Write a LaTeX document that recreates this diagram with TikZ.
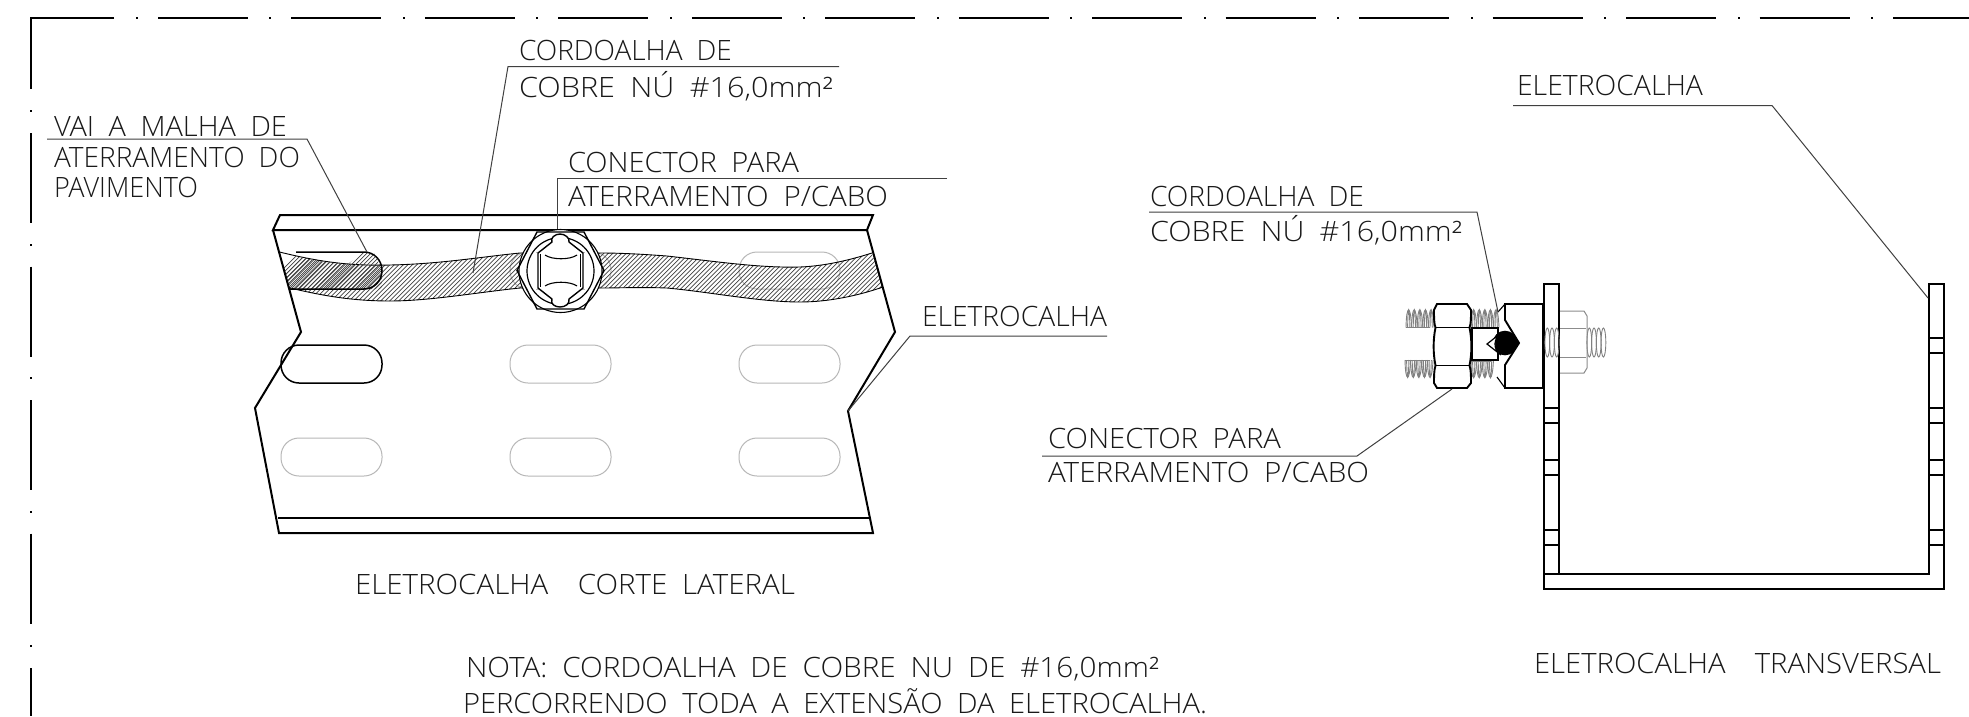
\documentclass[tikz,border=0pt]{standalone}
\usepackage{fontspec}
\usepackage{graphicx}
\setmainfont{Open Sans Light}
\tikzset{
  frameln/.style={line width=1.6pt,draw=black},
  thick1/.style={line width=2pt,draw=black,line join=miter},
  thin1/.style={line width=1.1pt,draw=black},
  leader/.style={line width=1pt,draw=black!75},
  grayslot/.style={line width=1pt,draw=black!28},
  blackslot/.style={line width=1.5pt,draw=black},
  hatchln/.style={line width=.7pt,draw=black!75},
  threadln/.style={line width=.9pt,draw=black!50},
  graynut/.style={line width=1pt,draw=black!45},
  lbl/.style={anchor=base west,inner sep=0pt,outer sep=0pt,font=\fontsize{28}{28}\selectfont,text=black!90}
}
\newcommand{\ws}{\hspace{.5em}}
\newcommand{\tlabel}[5]{\node[lbl] (#1) at (#2,#3) {\resizebox{#4pt}{\height}{#5}};}
\newcommand{\slotbox}[5]{\draw[#1,rounded corners=18pt] (#2,#3) rectangle (#4,#5);}
\newcommand{\thrup}[4]{% x0 x1 yctrl ybase
  \pgfmathsetmacro{\txn}{#1+5.6}
  \foreach \tx in {#1,\txn,...,#2}{
    \draw[threadln] (\tx,#4) .. controls (\tx+.4,#3) and (\tx+4.6,#3) .. (\tx+5.6,#4);
    \draw[threadln] (\tx+1.6,#4) .. controls (\tx+2,#3) and (\tx+3.4,#3) .. (\tx+3.9,#4);}
  \draw[threadln] (#1,#4) -- (#2,#4);}
\newcommand{\thrcoil}[4]{% x0 x1 ytop ybot
  \pgfmathsetmacro{\txn}{#1+4.7}
  \foreach \tx in {#1,\txn,...,#2}{
    \draw[threadln] (\tx+2.3,{(#3+#4)/2}) ellipse [x radius=2.4,y radius={(#4-#3)/2}];}}
\begin{document}
\begin{tikzpicture}[x=1pt,y=-1pt]
\useasboundingbox (0,0) rectangle (1969,716);
\fill[white] (0,0) rectangle (1969,716);
% ---- sheet frame
\draw[frameln] (114,18) -- (31,18) -- (31,89);
\foreach \i in {0,...,13}{
  \pgfmathsetmacro{\xa}{158+133.46*\i}
  \pgfmathsetmacro{\xb}{min(\xa+90,1969)}
  \draw[frameln] (\xa,18) -- (\xb,18);
  \fill (\xa-22,17) rectangle (\xa-20,19);
}
\foreach \i in {0,...,3}{
  \pgfmathsetmacro{\ya}{133+133.5*\i}
  \draw[frameln] (31,\ya) -- (31,\ya+90);
  \fill (30,\ya-23) rectangle (32,\ya-21);
}
\draw[frameln] (31,668) -- (31,716);
\fill (30,645) rectangle (32,647);
% ---- slots of the side view
\foreach \yt/\yb in {252/289,345/383,438/476}{
  \slotbox{grayslot}{510}{\yt}{611}{\yb}
  \slotbox{grayslot}{739}{\yt}{840}{\yb}
}
\slotbox{grayslot}{281}{438}{382}{476}
% ---- braided cable (hatched band)
\begin{scope}
  \clip (279.5,252) .. controls (320,262) and (350,266) .. (390,265) .. controls (440,264) and (480,257) .. (520,253) -- (600,253) .. controls (620,253) and (640,254) .. (667,256) .. controls (720,262) and (760,268) .. (800,267) .. controls (825,266) and (850,260) .. (872,253) -- (883,287) .. controls (860,295) and (830,302) .. (800,302) .. controls (760,302) and (710,292) .. (667,288) .. controls (640,287) and (620,288) .. (600,288) -- (520,288) .. controls (480,292) and (430,301) .. (390,301) .. controls (350,301) and (320,295) .. (290,288) -- cycle;
  \foreach \hx in {250,254.5,...,960}{\draw[hatchln] (\hx,310) -- ++(70,-70);}
\end{scope}
\draw[line width=.9pt,draw=black] (279.5,252) .. controls (320,262) and (350,266) .. (390,265) .. controls (440,264) and (480,257) .. (520,253) -- (600,253) .. controls (620,253) and (640,254) .. (667,256) .. controls (720,262) and (760,268) .. (800,267) .. controls (825,266) and (850,260) .. (872,253);
\draw[line width=.9pt,draw=black] (883,287) .. controls (860,295) and (830,302) .. (800,302) .. controls (760,302) and (710,292) .. (667,288) .. controls (640,287) and (620,288) .. (600,288) -- (520,288) .. controls (480,292) and (430,301) .. (390,301) .. controls (350,301) and (320,295) .. (290,288);
% doubled hatch where the cable enters the slot
\begin{scope}
  \clip (279,252) .. controls (320,262) and (335,264) .. (348,264) -- (363,252) -- (375,254) -- (382,270) -- (382,289) -- (290,289) -- cycle;
  \foreach \hx in {252,256,...,400}{\draw[hatchln] (\hx,300) -- ++(60,-60);}
\end{scope}
% ---- side view channel
\draw[thick1] (280,215) -- (873,215) -- (867,230) -- (273,230) -- cycle;
\draw[thick1] (273,230) -- (301,332) -- (255,408) -- (279,533) -- (873,533) -- (848,411) -- (895,332) -- (867,230);
\draw[thick1] (278,518) -- (869,518);
\draw[blackslot] (296,252) -- (364,252) .. controls (374,252) and (382,260) .. (382,270.5) .. controls (382,281) and (374,289) .. (364,289) -- (290,289);
\slotbox{blackslot}{281}{345}{382}{383}
% ---- connector seen from the front
\filldraw[thin1,fill=white] (560.5,271) circle (41.5);
\draw[line width=1.4pt] (517,270.5) -- (537,232) -- (584,232) -- (604,270.5) -- (584,309) -- (537,309) -- cycle;
\draw[line width=1.2pt] (560.5,271) circle (33.5);
\draw[grayslot] (536,252) -- (585,252) (536,289.5) -- (585,289.5);
\draw[line width=1.4pt,fill=white] (538,253) -- (552,242) .. controls (550,238) and (555,234) .. (560,234) .. controls (565,234) and (570,238) .. (569,242) -- (583,253) -- (583,288) -- (569,299) .. controls (570,304) and (565,307) .. (560,307) .. controls (555,307) and (550,304) .. (552,299) -- (538,288) -- cycle;
\draw[line width=1.6pt] (540.5,254) -- (540.5,287) (580.5,254) -- (580.5,287);
\draw[thin1] (545,255) .. controls (552,260) and (570,260) .. (577,255);
\draw[thin1] (545,286) .. controls (552,281) and (570,281) .. (577,286);
% ---- U channel, cross section
\draw[thick1] (1544,284) rectangle (1559,574);
\draw[thick1] (1544,284) -- (1544,589) -- (1944,589) -- (1944,284) -- (1929,284) -- (1929,574) -- (1559,574);
\foreach \ya/\yb in {408/423,460/475,530/545}{
  \draw[line width=1.6pt] (1544,\ya) -- (1559,\ya) (1544,\yb) -- (1559,\yb);
  \draw[line width=1.6pt] (1929,\ya) -- (1944,\ya) (1929,\yb) -- (1944,\yb);
}
\draw[line width=1.6pt] (1929,338) -- (1944,338) (1929,353) -- (1944,353);
% ---- bolt, gray parts
\thrup{1406}{1430}{304}{327.5}
\thrup{1405}{1430}{383}{360}
\thrup{1471}{1494}{304}{327.5}
\thrup{1471}{1491}{383}{361}
\thrcoil{1545}{1557}{328}{357}
\thrcoil{1587}{1604}{328}{357}
\draw[graynut] (1560,311) -- (1584,311) -- (1587,316) -- (1587,368) -- (1584,373) -- (1560,373);
\draw[graynut] (1560,328) -- (1586,328) (1560,357) -- (1586,357);
% ---- bolt, clamp and nut
\draw[line width=1.9pt,fill=white] (1505,304) -- (1543,304) -- (1543,388) -- (1505,388) -- (1505,365) -- (1519,343) -- (1505,320) -- cycle;
\draw[thin1] (1505,304) -- (1498,312) (1505,388) -- (1497,377);
\draw[line width=2.2pt] (1543,304) -- (1543,388);
\draw[line width=1.9pt,fill=white] (1472,328) rectangle (1498,360);
\fill (1505,343) circle (12.3);
\fill (1505,331) -- (1519,343) -- (1505,355) -- cycle;
\draw[line width=1.2pt,fill=white] (1487,344) -- (1501,333) .. controls (1494,338) and (1492,349) .. (1501,355) -- cycle;
\draw[line width=1.9pt,fill=white] (1437,304) -- (1467,304) -- (1471,310) .. controls (1471,318) and (1471,324) .. (1469.5,327.5) .. controls (1472,340) and (1472,353) .. (1469.5,365.5) .. controls (1471,370) and (1471,376) .. (1471,383) -- (1467,388) -- (1437,388) -- (1434,383) .. controls (1434,376) and (1434,370) .. (1435.5,365.5) .. controls (1433,353) and (1433,340) .. (1435.5,327.5) .. controls (1434,324) and (1434,318) .. (1434,310) -- cycle;
\draw[line width=1.5pt] (1435.5,327.5) -- (1469.5,327.5) (1435.5,365.5) -- (1469.5,365.5);
% ---- label anchors and leaders
\coordinate (c1a) at (508,66.5);
\coordinate (c1b) at (839,66.5);
\coordinate (c1t) at (473,273);
\coordinate (c2a) at (557,178);
\coordinate (c2b) at (947,178);
\coordinate (c2t) at (557,229);
\coordinate (c3a) at (47,139);
\coordinate (c3b) at (307,139);
\coordinate (c3t) at (367,252);
\coordinate (c4a) at (1107,336);
\coordinate (c4b) at (910,336);
\coordinate (c4t) at (848,411);
\coordinate (c5a) at (1513,105.5);
\coordinate (c5b) at (1772,105.5);
\coordinate (c5t) at (1928,298);
\coordinate (c6a) at (1149,212);
\coordinate (c6b) at (1477,212);
\coordinate (c6t) at (1498,312);
\coordinate (c7a) at (1042,456);
\coordinate (c7b) at (1357,456);
\coordinate (c7t) at (1452,389);
\draw[leader] (c1b) -- (c1a) -- (c1t);
\draw[leader] (c2b) -- (c2a) -- (c2t);
\draw[leader] (c3a) -- (c3b) -- (c3t);
\draw[leader] (c4a) -- (c4b) -- (c4t);
\draw[leader] (c5a) -- (c5b) -- (c5t);
\draw[leader] (c6a) -- (c6b) -- (c6t);
\draw[leader] (c7a) -- (c7b) -- (c7t);
% ---- texts
\tlabel{t1}{519}{60}{213}{CORDOALHA\ws DE}
\tlabel{t2}{519}{97}{314}{COBRE\ws NÚ\ws \#16,0mm²}
\tlabel{t3}{568}{172}{231}{CONECTOR\ws PARA}
\tlabel{t4}{568}{206}{320}{ATERRAMENTO\ws P/CABO}
\tlabel{t5}{54}{136}{233}{VAI\ws A\ws MALHA\ws DE}
\tlabel{t6}{54}{167}{246}{ATERRAMENTO\ws DO}
\tlabel{t7}{54}{197}{144}{PAVIMENTO}
\tlabel{t8}{922}{326}{185}{ELETROCALHA}
\tlabel{t9}{355}{594}{440}{ELETROCALHA\ws\ws CORTE\ws LATERAL}
\tlabel{t10}{1517}{95.5}{186}{ELETROCALHA}
\tlabel{t11}{1150}{206}{214}{CORDOALHA\ws DE}
\tlabel{t12}{1150}{241}{312}{COBRE\ws NÚ\ws \#16,0mm²}
\tlabel{t13}{1048}{448}{233}{CONECTOR\ws PARA}
\tlabel{t14}{1048}{482}{321}{ATERRAMENTO\ws P/CABO}
\tlabel{t15}{1534}{673}{407}{ELETROCALHA\ws\ws TRANSVERSAL}
\tlabel{t16}{466}{677}{693}{NOTA:\ws CORDOALHA\ws DE\ws COBRE\ws NU\ws DE\ws \#16,0mm²}
\tlabel{t17}{463}{713}{744}{PERCORRENDO\ws TODA\ws A\ws EXTENSÃO\ws DA\ws ELETROCALHA.}
\end{tikzpicture}
\end{document}
